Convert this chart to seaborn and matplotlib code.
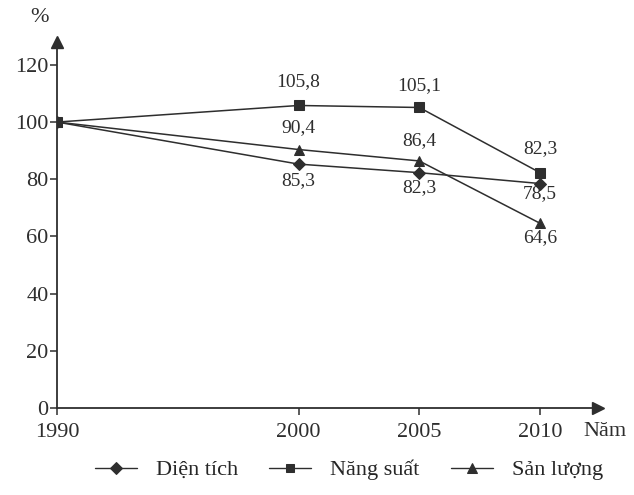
import pandas as pd
import matplotlib
matplotlib.use("Agg")
import matplotlib.pyplot as plt
import seaborn as sns

# ----------------------
# Data
# ----------------------
years = [1990, 2000, 2005, 2010]
dien_tich = [100, 85.3, 82.3, 78.5]
nang_suat = [100, 105.8, 105.1, 82.3]
san_luong = [100, 90.4, 86.4, 64.6]
series_names = ["Diện tích", "Năng suất", "Sản lượng"]
y_ticks = [0, 20, 40, 60, 80, 100, 120]

# label offsets in pixels (dx, dy) per series / point
label_offsets = {
    "Diện tích": [None, (0, -16), (0, -15), (0, -10)],
    "Năng suất": [None, (0, 24), (0, 22), (0, 24)],
    "Sản lượng": [None, (0, 22), (0, 20), (0, -14)],
}

# ----------------------
# Build frame
# ----------------------
records = []
for name, vals in zip(series_names, [dien_tich, nang_suat, san_luong]):
    for yr, v in zip(years, vals):
        records.append({"year": yr, "value": v, "series": name})
df = pd.DataFrame(records)

sns.set_style("ticks")
plt.rcParams["font.family"] = ["Liberation Serif", "DejaVu Serif"]

ink = "#2e2e2e"
x_end = 2012.4
fig = plt.figure(figsize=(6.34, 4.95), dpi=100)
ax = fig.add_axes([57 / 634, 87 / 495, (598 - 57) / 634, (408 - 42) / 495])

sns.lineplot(data=df, x="year", y="value", style="series", ax=ax,
             markers={"Diện tích": "D", "Năng suất": "s", "Sản lượng": "^"},
             dashes=False, color=ink, linewidth=1.1, markersize=6.5,
             markeredgecolor=ink, markerfacecolor=ink, legend=True)

# triangles look a bit bigger in the original
for ln in ax.lines:
    if ln.get_marker() == "^":
        ln.set_markersize(7.5)

ax.set_xlim(1990, x_end)
ax.set_ylim(0, 128)
ax.set_xticks(years)
ax.set_yticks(y_ticks)
ax.tick_params(labelsize=16, length=5, width=1.1, colors=ink)
ax.tick_params(axis="x", pad=6)
ax.tick_params(axis="y", pad=1)
ax.set_xlabel("")
ax.set_ylabel("")
for s in ["top", "right"]:
    ax.spines[s].set_visible(False)
for s in ["left", "bottom"]:
    ax.spines[s].set_linewidth(1.3)
    ax.spines[s].set_color(ink)

# axis arrows
ax.plot(0, 1, marker="^", markersize=9, color=ink, transform=ax.transAxes, clip_on=False)
ax.plot(1, 0, marker=">", markersize=9, color=ink, transform=ax.transAxes, clip_on=False)

# data labels
for name, vals in zip(series_names, [dien_tich, nang_suat, san_luong]):
    for i, (yr, v) in enumerate(zip(years, vals)):
        off = label_offsets[name][i]
        if off is None:
            continue
        ax.annotate(f"{v:.1f}".replace(".", ","), (yr, v), xytext=off,
                    textcoords="offset pixels", ha="center", va="center",
                    fontsize=14, color=ink)

fig.text(30 / 634, 1 - 18 / 495, "%", fontsize=16, color=ink, va="center")
fig.text(583 / 634, 1 - 431 / 495, "Năm", fontsize=16, color=ink, va="center")

handles, labels = ax.get_legend_handles_labels()
ax.legend_.remove()
for h in handles:
    h.set_markersize(6.5 if h.get_marker() == "^" else 6)
    h.set_linewidth(1.0)
fig.legend(handles, labels, loc="center", bbox_to_anchor=(0.55, 1 - 470 / 495),
           ncol=3, frameon=False, fontsize=16, handlelength=1.9,
           columnspacing=1.4, handletextpad=0.85)

fig.savefig("out.png", dpi=100)
